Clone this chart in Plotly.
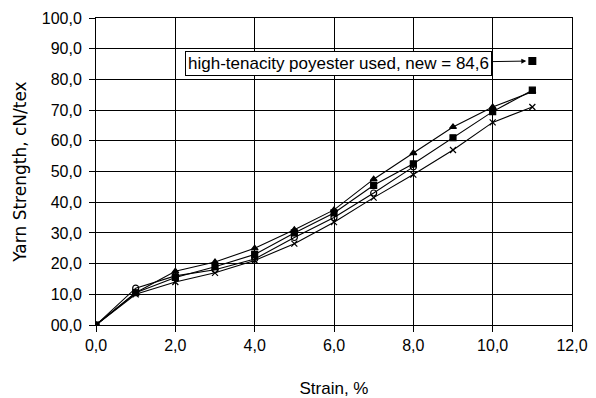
import plotly.graph_objects as go

strain = [0, 1, 2, 3, 4, 5, 6, 7, 8, 9, 10, 11]
s_triangle = [0, 10.5, 17.5, 20.5, 25.0, 31.0, 37.5, 47.5, 56.0, 64.5, 71.0, 76.0]
s_square = [0, 10.5, 15.5, 19.0, 23.0, 30.0, 36.5, 45.5, 52.5, 61.0, 69.5, 76.5]
s_circle = [0, 12.0, 16.0, 18.0, 21.5, 28.5, 35.0, 43.0, 51.5]
s_star = [0, 10.0, 14.0, 17.0, 21.0, 26.5, 33.5, 41.5, 49.0, 57.0, 66.0, 71.0]
new_x = [11]
new_y = [86.0]
note = "high-tenacity poyester used, new = 84,6"

x_ticks = [0, 2, 4, 6, 8, 10, 12]
x_ticktext = ["0,0", "2,0", "4,0", "6,0", "8,0", "10,0", "12,0"]
y_ticks = [0, 10, 20, 30, 40, 50, 60, 70, 80, 90, 100]
y_ticktext = ["00,0", "10,0", "20,0", "30,0", "40,0", "50,0", "60,0", "70,0", "80,0", "90,0", "100,0"]

fig = go.Figure()
series = [
    (s_triangle, "triangle-up"),
    (s_square, "square"),
    (s_circle, "circle-open"),
    (s_star, "x-thin-open"),
]
for ys, sym in series:
    fig.add_trace(go.Scatter(
        x=strain[:len(ys)], y=ys, mode="lines+markers",
        line=dict(color="black", width=1.1),
        marker=dict(symbol=sym, size=6, color="black", line=dict(color="black", width=1.2)),
        showlegend=False,
    ))
fig.add_trace(go.Scatter(
    x=new_x, y=new_y, mode="markers",
    marker=dict(symbol="square", size=8, color="black"),
    showlegend=False,
))

fig.add_annotation(
    x=new_x[0], y=new_y[0], xref="x", yref="y",
    text=note, showarrow=True, ax=-194, ay=3,
    arrowhead=2, arrowsize=1, arrowwidth=1, arrowcolor="black", standoff=6,
    font=dict(family="Liberation Sans, Arial", size=17, color="black"),
    bordercolor="black", borderwidth=1, borderpad=2, bgcolor="white",
)

axis_common = dict(
    showgrid=True, gridcolor="black", gridwidth=1,
    showline=True, linecolor="black", linewidth=1, mirror=True,
    ticks="outside", ticklen=6, tickcolor="black", zeroline=False,
    automargin=False,
    tickfont=dict(family="Liberation Sans, Arial", size=16, color="black"),
)
fig.update_xaxes(range=[0, 12], tickvals=x_ticks, ticktext=x_ticktext,
                 ticklabelstandoff=0,
                 title=dict(text="Strain, %", font=dict(family="Liberation Sans, Arial", size=17, color="black"), standoff=32),
                 **axis_common)
fig.update_yaxes(range=[0, 100], tickvals=y_ticks, ticktext=y_ticktext,
                 ticklabelstandoff=4,
                 title=dict(text="Yarn Strength, cN/tex", font=dict(family="DejaVu Sans, Verdana", size=17, color="black"), standoff=10),
                 **axis_common)

fig.update_layout(
    width=588, height=390,
    margin=dict(l=88, r=24, t=10, b=73),
    paper_bgcolor="white", plot_bgcolor="white",
)
fig.write_html("out.html")
